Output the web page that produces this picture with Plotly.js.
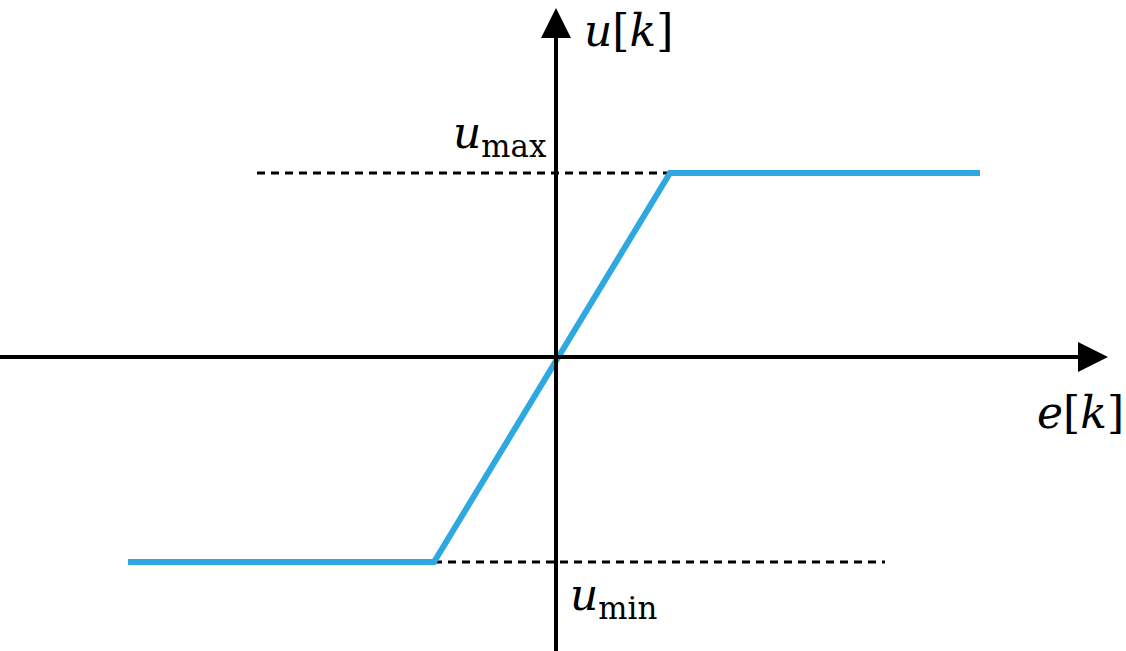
<!DOCTYPE html>
<html><head><meta charset="utf-8">
<script src="https://cdn.plot.ly/plotly-3.0.1.min.js"></script>
<style>html,body{margin:0;padding:0;background:#fff}#chart{width:1126px;height:651px}</style>
</head><body><div id="chart"></div>
<script>
// Saturation characteristic u[k] = sat(e[k])
const curveE = [-4.28, -1.22, 1.14, 4.24];
const curveU = [-2.05, -2.05, 1.84, 1.84];
const uMax = 1.84, uMin = -2.05;
const upperDashE = [-2.99, 1.14];
const lowerDashE = [-1.22, 3.29];
const labels = {u: "<i>u</i>[<i>k</i>]", e: "<i>e</i>[<i>k</i>]", umax: "<i>u</i><sub>max</sub>", umin: "<i>u</i><sub>min</sub>"};

const traces = [
  {x: upperDashE, y: [uMax, uMax], mode: 'lines', line: {color: '#000', width: 3, dash: '8px,6px'}, hoverinfo: 'skip'},
  {x: lowerDashE, y: [uMin, uMin], mode: 'lines', line: {color: '#000', width: 3, dash: '8px,6px'}, hoverinfo: 'skip'},
  {x: curveE, y: curveU, mode: 'lines', line: {color: '#2EA8E0', width: 6}, hoverinfo: 'skip'}
];

const serif = {family: '"DejaVu Serif", serif', color: '#000'};
const layout = {
  width: 1126, height: 651,
  margin: {l: 0, r: 0, t: 0, b: 0},
  paper_bgcolor: '#fff', plot_bgcolor: '#fff',
  showlegend: false,
  xaxis: {range: [-5.56, 5.70], visible: false, fixedrange: true},
  yaxis: {range: [-2.94, 3.57], visible: false, fixedrange: true},
  annotations: [
    {x: 5.52, y: 0, ax: -5.6, ay: 0, xref: 'x', yref: 'y', axref: 'x', ayref: 'y', text: '', showarrow: true, arrowhead: 2, arrowsize: 1.5, arrowwidth: 4, arrowcolor: '#000'},
    {x: 0, y: 3.49, ax: 0, ay: -3.0, xref: 'x', yref: 'y', axref: 'x', ayref: 'y', text: '', showarrow: true, arrowhead: 2, arrowsize: 1.5, arrowwidth: 4, arrowcolor: '#000'},
    {x: 0.26, y: 3.27, xref: 'x', yref: 'y', text: labels.u, showarrow: false, xanchor: 'left', yanchor: 'middle', font: Object.assign({size: 44}, serif)},
    {x: 5.70, y: -0.55, xref: 'x', yref: 'y', text: labels.e, showarrow: false, xanchor: 'right', yanchor: 'middle', font: Object.assign({size: 44}, serif)},
    {x: -0.08, y: 2.22, xref: 'x', yref: 'y', text: labels.umax, showarrow: false, xanchor: 'right', yanchor: 'middle', font: Object.assign({size: 44}, serif)},
    {x: 0.12, y: -2.40, xref: 'x', yref: 'y', text: labels.umin, showarrow: false, xanchor: 'left', yanchor: 'middle', font: Object.assign({size: 44}, serif)}
  ]
};
Plotly.newPlot('chart', traces, layout, {staticPlot: true, displayModeBar: false});
</script></body></html>
